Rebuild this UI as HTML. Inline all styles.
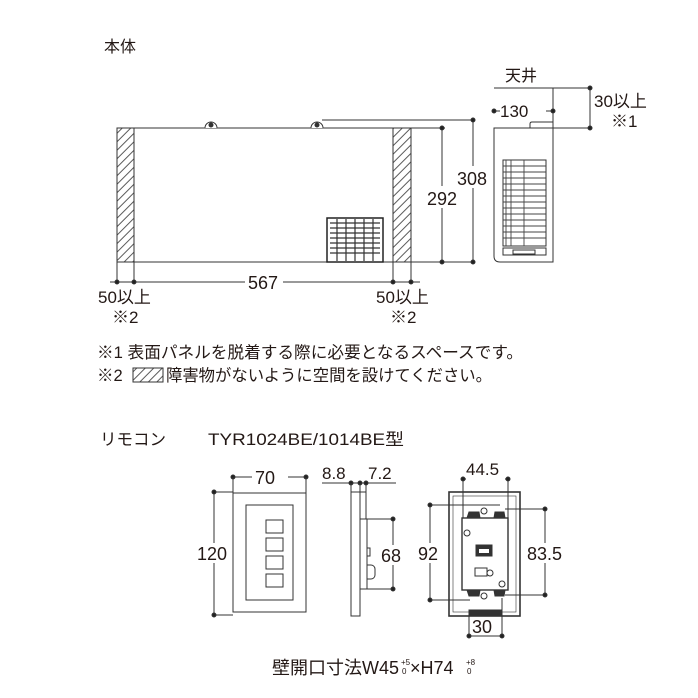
<!DOCTYPE html>
<html><head><meta charset="utf-8"><style>
html,body{margin:0;padding:0;background:#fff;}
svg{display:block}
text{font-family:"Liberation Sans","Noto Sans CJK JP",sans-serif;fill:#231815}
</style></head><body>
<svg width="698" height="698" viewBox="0 0 698 698" xmlns="http://www.w3.org/2000/svg">
<defs>
<pattern id="h" width="6" height="6" patternUnits="userSpaceOnUse" patternTransform="rotate(-45)">
<line x1="0" y1="3" x2="6" y2="3" stroke="#333" stroke-width="0.8"/>
</pattern>
</defs>
<g stroke="#333" fill="none" stroke-width="1">
<text x="104" y="52" font-size="16" stroke="none">本体</text>
<!-- main body -->
<rect x="117" y="128" width="17" height="134" fill="url(#h)"/>
<rect x="393" y="128" width="18" height="134" fill="url(#h)"/>
<line x1="117" y1="128" x2="445" y2="128"/>
<line x1="117" y1="262" x2="475" y2="262"/>
<path d="M205 128 a6 6 0 0 1 12 0" fill="#fff"/><circle cx="211" cy="125" r="2" fill="#333"/>
<path d="M311 128 a6 6 0 0 1 12 0" fill="#fff"/><circle cx="317" cy="125" r="2" fill="#333"/>
<line x1="322" y1="120" x2="473" y2="120"/>
<rect x="327" y="218" width="56" height="44" fill="#fff" stroke="#222" stroke-width="1.5"/>
<g stroke="#333" stroke-width="1.2"><line x1="330" y1="223" x2="380" y2="223"/><line x1="330" y1="228" x2="380" y2="228"/><line x1="330" y1="233" x2="380" y2="233"/><line x1="330" y1="238" x2="380" y2="238"/><line x1="330" y1="243" x2="380" y2="243"/><line x1="330" y1="248" x2="380" y2="248"/><line x1="330" y1="253" x2="380" y2="253"/>
<line x1="337" y1="219" x2="337" y2="261"/><line x1="346" y1="219" x2="346" y2="261"/><line x1="355" y1="219" x2="355" y2="261"/><line x1="364" y1="219" x2="364" y2="261"/><line x1="373" y1="219" x2="373" y2="261"/></g>
<line x1="442" y1="128" x2="442" y2="262"/><circle cx="442" cy="128" r="2" fill="#222"/><circle cx="442" cy="262" r="2" fill="#222"/>
<line x1="473" y1="120" x2="473" y2="262"/><circle cx="473" cy="120" r="2" fill="#222"/><circle cx="473" cy="262" r="2" fill="#222"/>
<rect x="426" y="186" width="36" height="22" fill="#fff" stroke="none"/>
<text x="427" y="205" font-size="18" stroke="none">292</text>
<rect x="456" y="166" width="36" height="22" fill="#fff" stroke="none"/>
<text x="457" y="185" font-size="18" stroke="none">308</text>
<line x1="117" y1="262" x2="117" y2="282"/><line x1="134" y1="262" x2="134" y2="282"/>
<line x1="393" y1="262" x2="393" y2="282"/><line x1="411" y1="262" x2="411" y2="282"/>
<line x1="110" y1="282" x2="245" y2="282"/><line x1="283" y1="282" x2="420" y2="282"/>
<circle cx="117" cy="282" r="2" fill="#222"/><circle cx="134" cy="282" r="2" fill="#222"/><circle cx="393" cy="282" r="2" fill="#222"/><circle cx="411" cy="282" r="2" fill="#222"/>
<text x="248" y="289" font-size="18" stroke="none">567</text>
<text x="98" y="303" font-size="17" stroke="none">50以上</text>
<text x="112" y="323" font-size="17" stroke="none">※2</text>
<text x="376" y="303" font-size="17" stroke="none">50以上</text>
<text x="390" y="323" font-size="17" stroke="none">※2</text>
<!-- side view -->
<text x="505" y="81" font-size="16" stroke="none">天井</text>
<line x1="494" y1="88" x2="590" y2="88"/>
<line x1="553" y1="88" x2="553" y2="128"/>
<line x1="530" y1="128" x2="590" y2="128"/>
<line x1="590" y1="88" x2="590" y2="128"/><circle cx="590" cy="88" r="2" fill="#222"/><circle cx="590" cy="128" r="2" fill="#222"/>
<line x1="494" y1="111" x2="500" y2="111"/><line x1="546" y1="111" x2="553" y2="111"/>
<circle cx="494" cy="111" r="2" fill="#222"/><circle cx="553" cy="111" r="2" fill="#222"/>
<text x="500" y="117" font-size="17" stroke="none">130</text>
<text x="594" y="107" font-size="17" stroke="none">30以上</text>
<text x="611" y="127" font-size="17" stroke="none">※1</text>
<path d="M494 128 H553 V262 H500 Q494 262 494 256 Z"/>
<path d="M530 128 v-4 q0 -2 2 -2 h21"/>
<rect x="503" y="160" width="43" height="86" fill="#fff"/>
<g stroke="#444" stroke-width="0.9">
<line x1="503" y1="166" x2="546" y2="166"/><line x1="503" y1="172" x2="546" y2="172"/><line x1="503" y1="178" x2="546" y2="178"/><line x1="503" y1="184" x2="546" y2="184"/><line x1="503" y1="190" x2="546" y2="190"/><line x1="503" y1="196" x2="546" y2="196"/><line x1="503" y1="202" x2="546" y2="202"/><line x1="503" y1="208" x2="546" y2="208"/><line x1="503" y1="214" x2="546" y2="214"/><line x1="503" y1="220" x2="546" y2="220"/><line x1="503" y1="226" x2="546" y2="226"/><line x1="503" y1="232" x2="546" y2="232"/><line x1="503" y1="238" x2="546" y2="238"/>
<line x1="506" y1="160" x2="506" y2="246"/><line x1="511" y1="160" x2="511" y2="246"/><line x1="524" y1="160" x2="524" y2="246"/>
</g>
<rect x="503" y="248" width="43" height="7"/><rect x="513" y="250" width="22" height="4"/>
<!-- notes -->
<text x="97" y="358" font-size="16.5" stroke="none" textLength="426" lengthAdjust="spacingAndGlyphs">※1 表面パネルを脱着する際に必要となるスペースです。</text>
<text x="97" y="381" font-size="16.5" stroke="none">※2</text>
<rect x="133" y="368" width="30" height="14" fill="url(#h)"/>
<text x="166" y="381" font-size="16.5" stroke="none" textLength="326" lengthAdjust="spacingAndGlyphs">障害物がないように空間を設けてください。</text>
<text x="100" y="445" font-size="16.5" stroke="none">リモコン</text>
<text x="208" y="445" font-size="16.5" stroke="none" textLength="196" lengthAdjust="spacingAndGlyphs">TYR1024BE/1014BE型</text>
<!-- remote front -->
<rect x="233" y="493" width="73" height="119"/>
<rect x="246" y="505" width="47" height="95"/>
<rect x="266" y="520" width="17" height="13"/><rect x="266" y="538" width="17" height="13"/><rect x="266" y="556" width="17" height="13"/><rect x="266" y="574" width="17" height="13"/>
<line x1="233" y1="477" x2="252" y2="477"/><line x1="288" y1="477" x2="306" y2="477"/>
<circle cx="233" cy="477" r="2" fill="#222"/><circle cx="306" cy="477" r="2" fill="#222"/>
<line x1="233" y1="477" x2="233" y2="493"/><line x1="306" y1="477" x2="306" y2="493"/>
<text x="255" y="484" font-size="18" stroke="none">70</text>
<line x1="214" y1="492" x2="214" y2="543"/><line x1="214" y1="563" x2="214" y2="615"/>
<line x1="214" y1="492" x2="233" y2="492"/><line x1="214" y1="615" x2="233" y2="615"/>
<circle cx="214" cy="492" r="2" fill="#222"/><circle cx="214" cy="615" r="2" fill="#222"/>
<text x="197" y="560" font-size="18" stroke="none">120</text>
<!-- remote side -->
<rect x="351" y="492" width="9" height="124"/>
<line x1="360" y1="492" x2="366" y2="492"/><line x1="366" y1="483" x2="366" y2="519"/>
<path d="M360 519 H367 V589 H360"/>
<rect x="367" y="548" width="3" height="8"/>
<path d="M367 565 h4 a4 4 0 0 1 4 4 v6 a4 4 0 0 1 -4 4 h-4"/>
<line x1="322" y1="483" x2="396" y2="483"/>
<circle cx="351" cy="483" r="2" fill="#222"/><circle cx="360" cy="483" r="2" fill="#222"/><circle cx="366" cy="483" r="2" fill="#222"/>
<line x1="351" y1="483" x2="351" y2="492"/><line x1="360" y1="483" x2="360" y2="492"/>
<text x="322" y="479" font-size="17" stroke="none">8.8</text>
<text x="368" y="479" font-size="17" stroke="none">7.2</text>
<line x1="367" y1="519" x2="393" y2="519"/><line x1="367" y1="589" x2="393" y2="589"/>
<line x1="393" y1="519" x2="393" y2="545"/><line x1="393" y1="565" x2="393" y2="589"/>
<circle cx="393" cy="519" r="2" fill="#222"/><circle cx="393" cy="589" r="2" fill="#222"/>
<text x="381" y="562" font-size="18" stroke="none">68</text>
<!-- remote back -->
<rect x="449" y="492" width="71" height="124" stroke-width="1.6"/>
<rect x="453" y="496" width="63" height="116" stroke-width="0.6"/>
<rect x="462" y="518" width="46" height="72" fill="#fff" stroke-width="1.4"/>
<path d="M467 518 l2 -6 h10 l1 6 M494 518 l1 -6 h9 l1 6" fill="#333"/>
<path d="M467 590 l2 6 h10 l1 -6 M494 590 l1 6 h9 l1 -6" fill="#333"/>
<circle cx="484" cy="511" r="3"/><circle cx="484" cy="596" r="3"/>
<circle cx="467" cy="533" r="3"/><circle cx="490" cy="573" r="3"/><circle cx="502" cy="584" r="3"/>
<rect x="476" y="545" width="16" height="11" fill="#333"/><rect x="479" y="549" width="10" height="4" fill="#fff" stroke="none"/>
<rect x="475" y="568" width="12" height="8"/>
<line x1="463" y1="479" x2="463" y2="518"/><line x1="508" y1="479" x2="508" y2="518"/>
<line x1="463" y1="479" x2="466" y2="479"/><line x1="505" y1="479" x2="508" y2="479"/>
<circle cx="463" cy="479" r="2" fill="#222"/><circle cx="508" cy="479" r="2" fill="#222"/>
<text x="466" y="475" font-size="17" stroke="none">44.5</text>
<line x1="430" y1="505" x2="500" y2="505"/><line x1="430" y1="600" x2="470" y2="600"/>
<line x1="430" y1="505" x2="430" y2="543"/><line x1="430" y1="563" x2="430" y2="600"/>
<circle cx="430" cy="505" r="2" fill="#222"/><circle cx="430" cy="600" r="2" fill="#222"/>
<text x="418" y="560" font-size="18" stroke="none">92</text>
<line x1="505" y1="509" x2="545" y2="509"/><line x1="505" y1="595" x2="545" y2="595"/>
<line x1="545" y1="509" x2="545" y2="543"/><line x1="545" y1="563" x2="545" y2="595"/>
<circle cx="545" cy="509" r="2" fill="#222"/><circle cx="545" cy="595" r="2" fill="#222"/>
<text x="527" y="560" font-size="18" stroke="none">83.5</text>
<rect x="469" y="610" width="33" height="6" fill="#333"/>
<line x1="469" y1="616" x2="469" y2="636"/><line x1="502" y1="598" x2="502" y2="636"/>
<line x1="469" y1="636" x2="502" y2="636"/>
<circle cx="469" cy="636" r="2" fill="#222"/><circle cx="502" cy="636" r="2" fill="#222"/>
<text x="472" y="633" font-size="18" stroke="none">30</text>
<text x="272" y="674" font-size="18" stroke="none">壁開口寸法W45</text>
<text x="401" y="665" font-size="8" stroke="none">+5</text><text x="402" y="674" font-size="8" stroke="none">0</text>
<text x="410" y="674" font-size="18" stroke="none">×H74</text>
<text x="466" y="665" font-size="8" stroke="none">+8</text><text x="467" y="674" font-size="8" stroke="none">0</text>
</g>
</svg>
</body></html>
